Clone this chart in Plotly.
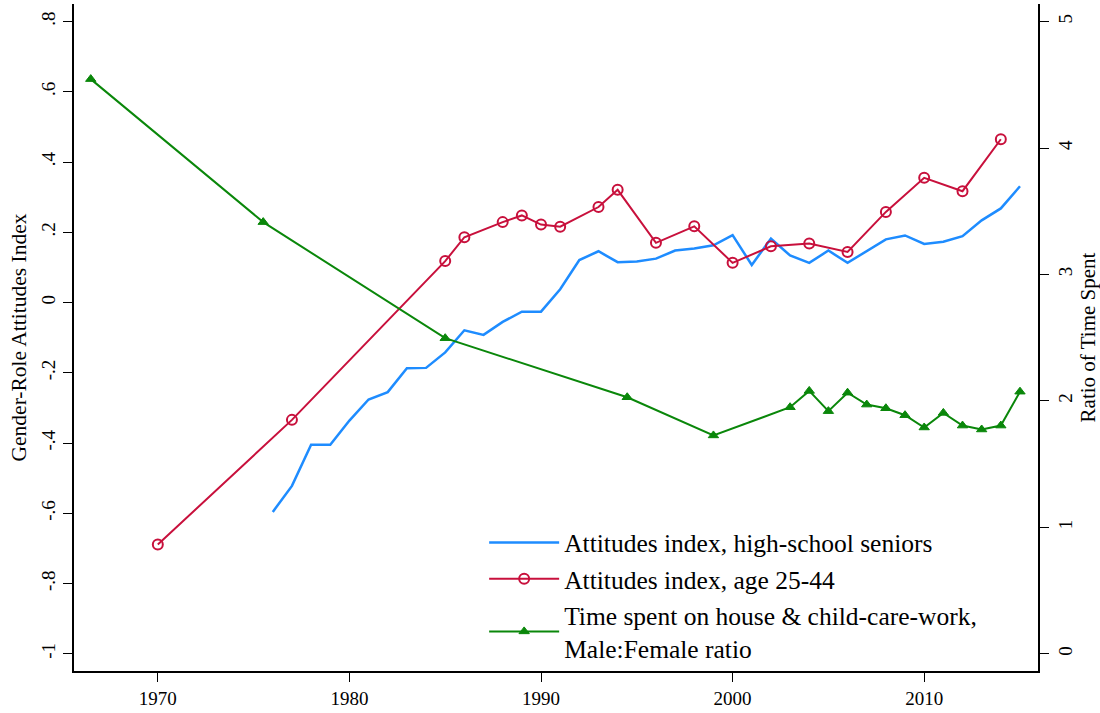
import plotly.graph_objects as go

# High-school seniors attitudes index (left axis)
hs_years = list(range(1976, 2016))
hs_values = [-0.596, -0.522, -0.405, -0.405, -0.336, -0.276, -0.255, -0.187, -0.186, -0.142,
             -0.079, -0.092, -0.055, -0.026, -0.026, 0.038, 0.121, 0.146, 0.115, 0.117,
             0.125, 0.148, 0.154, 0.163, 0.192, 0.107, 0.182, 0.134, 0.113, 0.148,
             0.113, 0.146, 0.180, 0.191, 0.167, 0.173, 0.189, 0.234, 0.268, 0.331]

# Age 25-44 attitudes index (left axis)
adult_years = [1970, 1977, 1985, 1986, 1988, 1989, 1990, 1991, 1993, 1994, 1996, 1998,
               2000, 2002, 2004, 2006, 2008, 2010, 2012, 2014]
adult_values = [-0.689, -0.334, 0.118, 0.186, 0.229, 0.248, 0.222, 0.216, 0.272, 0.321,
                0.170, 0.217, 0.113, 0.160, 0.168, 0.144, 0.258, 0.355, 0.317, 0.465]

# Time spent ratio (right axis)
time_years = [1966.5, 1975.5, 1985, 1994.5, 1999, 2003, 2004, 2005, 2006, 2007, 2008,
              2009, 2010, 2011, 2012, 2013, 2014, 2015]
time_values = [4.545, 3.414, 2.496, 2.029, 1.727, 1.950, 2.079, 1.919, 2.065, 1.971,
               1.942, 1.887, 1.790, 1.905, 1.805, 1.774, 1.805, 2.073]

left_tickvals = [-1, -0.8, -0.6, -0.4, -0.2, 0, 0.2, 0.4, 0.6, 0.8]
left_ticktext = ["-1", "-.8", "-.6", "-.4", "-.2", "0", ".2", ".4", ".6", ".8"]
right_tickvals = [0, 1, 2, 3, 4, 5]
right_ticktext = ["0", "1", "2", "3", "4", "5"]
x_tickvals = [1970, 1980, 1990, 2000, 2010]

FONT = "Liberation Serif"
BLUE = "#1e8cff"
RED = "#c8103c"
GREEN = "#0a870a"

fig = go.Figure()
fig.add_trace(go.Scatter(x=hs_years, y=hs_values, mode="lines",
                         name="Attitudes index, high-school seniors",
                         line=dict(color=BLUE, width=2.5)))
fig.add_trace(go.Scatter(x=adult_years, y=adult_values, mode="lines+markers",
                         name="Attitudes index, age 25-44",
                         line=dict(color=RED, width=2),
                         marker=dict(symbol="circle-open", size=10, color=RED,
                                     line=dict(width=2, color=RED))))
fig.add_trace(go.Scatter(x=time_years, y=time_values, mode="lines+markers",
                         name="Time spent on house & child-care-work,<br>Male:Female ratio",
                         yaxis="y2",
                         line=dict(color=GREEN, width=2),
                         marker=dict(symbol="triangle-up", size=9, color=GREEN,
                                     line=dict(width=1, color=GREEN))))

fig.update_layout(
    width=1100, height=713,
    margin=dict(l=74, r=60, t=4, b=40),
    paper_bgcolor="white", plot_bgcolor="white",
    font=dict(family=FONT, color="black", size=19),
    showlegend=True,
    legend=dict(x=(485 - 74) / 966, y=(673 - 521) / 669, xanchor="left", yanchor="top",
                font=dict(size=25.5, family=FONT), bgcolor="rgba(0,0,0,0)",
                borderwidth=0, itemwidth=70, tracegroupgap=0),
    xaxis=dict(range=[1965.625, 2015.94], tickvals=x_tickvals,
               showgrid=False, zeroline=False, showline=True, linecolor="black",
               linewidth=2, ticks="outside", ticklen=9, tickwidth=1, tickcolor="black",
               tickfont=dict(size=19), mirror=False),
    yaxis=dict(range=[-1.049, 0.850], tickvals=left_tickvals, ticktext=left_ticktext,
               showgrid=False, zeroline=False, showline=True, linecolor="black",
               linewidth=2, ticks="outside", ticklen=9, tickwidth=1, tickcolor="black",
               tickangle=-90, tickfont=dict(size=19),
               title=dict(text="Gender-Role Attitudes Index", font=dict(size=21.5), standoff=6)),
    yaxis2=dict(range=[-0.136, 5.139], tickvals=right_tickvals, ticktext=right_ticktext,
                overlaying="y", side="right",
                showgrid=False, zeroline=False, showline=True, linecolor="black",
                linewidth=2, ticks="outside", ticklen=9, tickwidth=1, tickcolor="black",
                tickangle=-90, tickfont=dict(size=19),
                title=dict(text="Ratio of Time Spent", font=dict(size=21), standoff=6)),
)

fig.write_html("out.html")
